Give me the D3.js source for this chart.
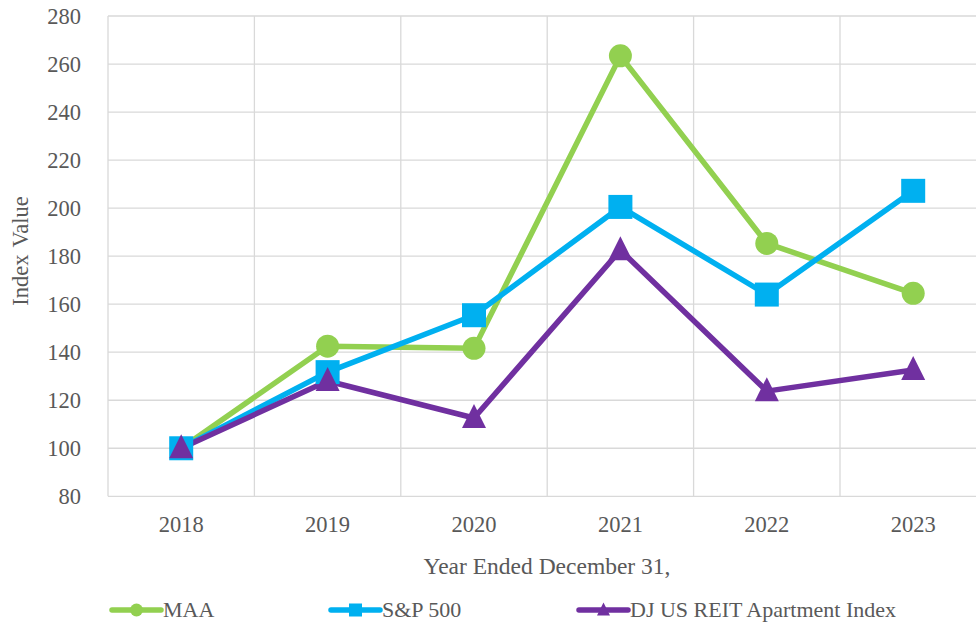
<!DOCTYPE html>
<html><head><meta charset="utf-8">
<script src="https://cdn.jsdelivr.net/npm/d3@7"></script>
<style>body{margin:0;background:#fff;overflow:hidden}svg{display:block}</style>
</head><body>
<svg id="c" width="976" height="627" font-family="Liberation Serif" fill="#595959"></svg>
<script>
const years = ["2018","2019","2020","2021","2022","2023"];
const maa = [100, 142.5, 141.6, 263.4, 185.3, 164.5];
const sp500 = [100, 131.7, 155.4, 200.5, 164.0, 207.2];
const djReit = [100, 128.0, 112.6, 182.5, 123.8, 132.6];
const yTicks = [80,100,120,140,160,180,200,220,240,260,280];
const seriesNames = ["MAA","S&P 500","DJ US REIT Apartment Index"];

const series = [
  {name: seriesNames[0], values: maa, color: "#92D050", shape: "circle"},
  {name: seriesNames[1], values: sp500, color: "#00B0F0", shape: "square"},
  {name: seriesNames[2], values: djReit, color: "#7030A0", shape: "triangle"}
];

const FONT = "Liberation Serif";
const TXT = "#595959";
const svg = d3.select("#c");
const pLeft = 108, pTop = 16, pBottom = 496.3, step = 146.4;
const x = d3.scaleBand().domain(years).range([pLeft, pLeft + step*years.length]);
const y = d3.scaleLinear().domain([80,280]).range([pBottom, pTop]);

const g = svg.append("g");
g.selectAll(".hg").data(yTicks).join("line")
  .attr("x1", pLeft).attr("x2", pLeft + step*years.length)
  .attr("y1", d=>y(d)).attr("y2", d=>y(d))
  .attr("stroke", "#d9d9d9").attr("stroke-width", 1.3);
g.selectAll(".vg").data(years).join("line")
  .attr("x1", d=>x(d)).attr("x2", d=>x(d))
  .attr("y1", pTop).attr("y2", pBottom)
  .attr("stroke", "#d9d9d9").attr("stroke-width", 1.3);

g.selectAll(".yl").data(yTicks).join("text")
  .attr("x", 81).attr("y", d=>y(d)).attr("dy","0.35em")
  .attr("font-family", FONT).attr("fill", TXT)
  .attr("text-anchor","end").attr("font-size", 22.5).text(d=>d);
g.selectAll(".xl").data(years).join("text")
  .attr("x", d=>x(d)+x.bandwidth()/2).attr("y", 532)
  .attr("font-family", FONT).attr("fill", TXT)
  .attr("text-anchor","middle").attr("font-size", 22.5).text(d=>d);

svg.append("text").attr("transform","translate(28,251) rotate(-90)")
  .attr("font-family", FONT).attr("fill", TXT).attr("word-spacing", 2)
  .attr("text-anchor","middle").attr("font-size", 22.5).text("Index Value");
svg.append("text").attr("x", 547).attr("y", 574)
  .attr("font-family", FONT).attr("fill", TXT)
  .attr("text-anchor","middle").attr("font-size", 23.5).text("Year Ended December 31,");

const cx = d=>x(d)+x.bandwidth()/2;
function drawMarker(sel, shape, size, color){
  if(shape==="circle"){
    sel.append("circle").attr("r", size/2).attr("fill", color);
  } else if(shape==="square"){
    sel.append("rect").attr("x",-size/2).attr("y",-size/2).attr("width",size).attr("height",size).attr("fill",color);
  } else {
    const h = size;
    sel.append("path").attr("d", `M0,${-h*0.58}L${size/2},${h*0.42}L${-size/2},${h*0.42}Z`).attr("fill",color);
  }
}

const line = d3.line().x((d,i)=>cx(years[i])).y(d=>y(d));
series.forEach(s=>{
  g.append("path").datum(s.values).attr("d", line)
    .attr("fill","none").attr("stroke", s.color).attr("stroke-width", 5.5).attr("stroke-linejoin","round");
});
series.forEach(s=>{
  s.values.forEach((v,i)=>{
    const m = g.append("g").attr("transform",`translate(${cx(years[i])},${y(v)})`);
    drawMarker(m, s.shape, s.shape==="circle"?23:24, s.color);
  });
});

const legX = [112, 331, 579];
series.forEach((s,i)=>{
  const lg = svg.append("g").attr("transform",`translate(${legX[i]},610)`);
  lg.append("line").attr("x1",0).attr("x2",49).attr("stroke",s.color).attr("stroke-width",5.5).attr("stroke-linecap","round");
  const m = lg.append("g").attr("transform","translate(24.5,0)");
  drawMarker(m, s.shape, 13, s.color);
  lg.append("text").attr("x", 51).attr("y", 0).attr("dy","0.33em")
    .attr("font-family", FONT).attr("fill", TXT).attr("font-size", 22).text(s.name);
});
</script>
</body></html>
